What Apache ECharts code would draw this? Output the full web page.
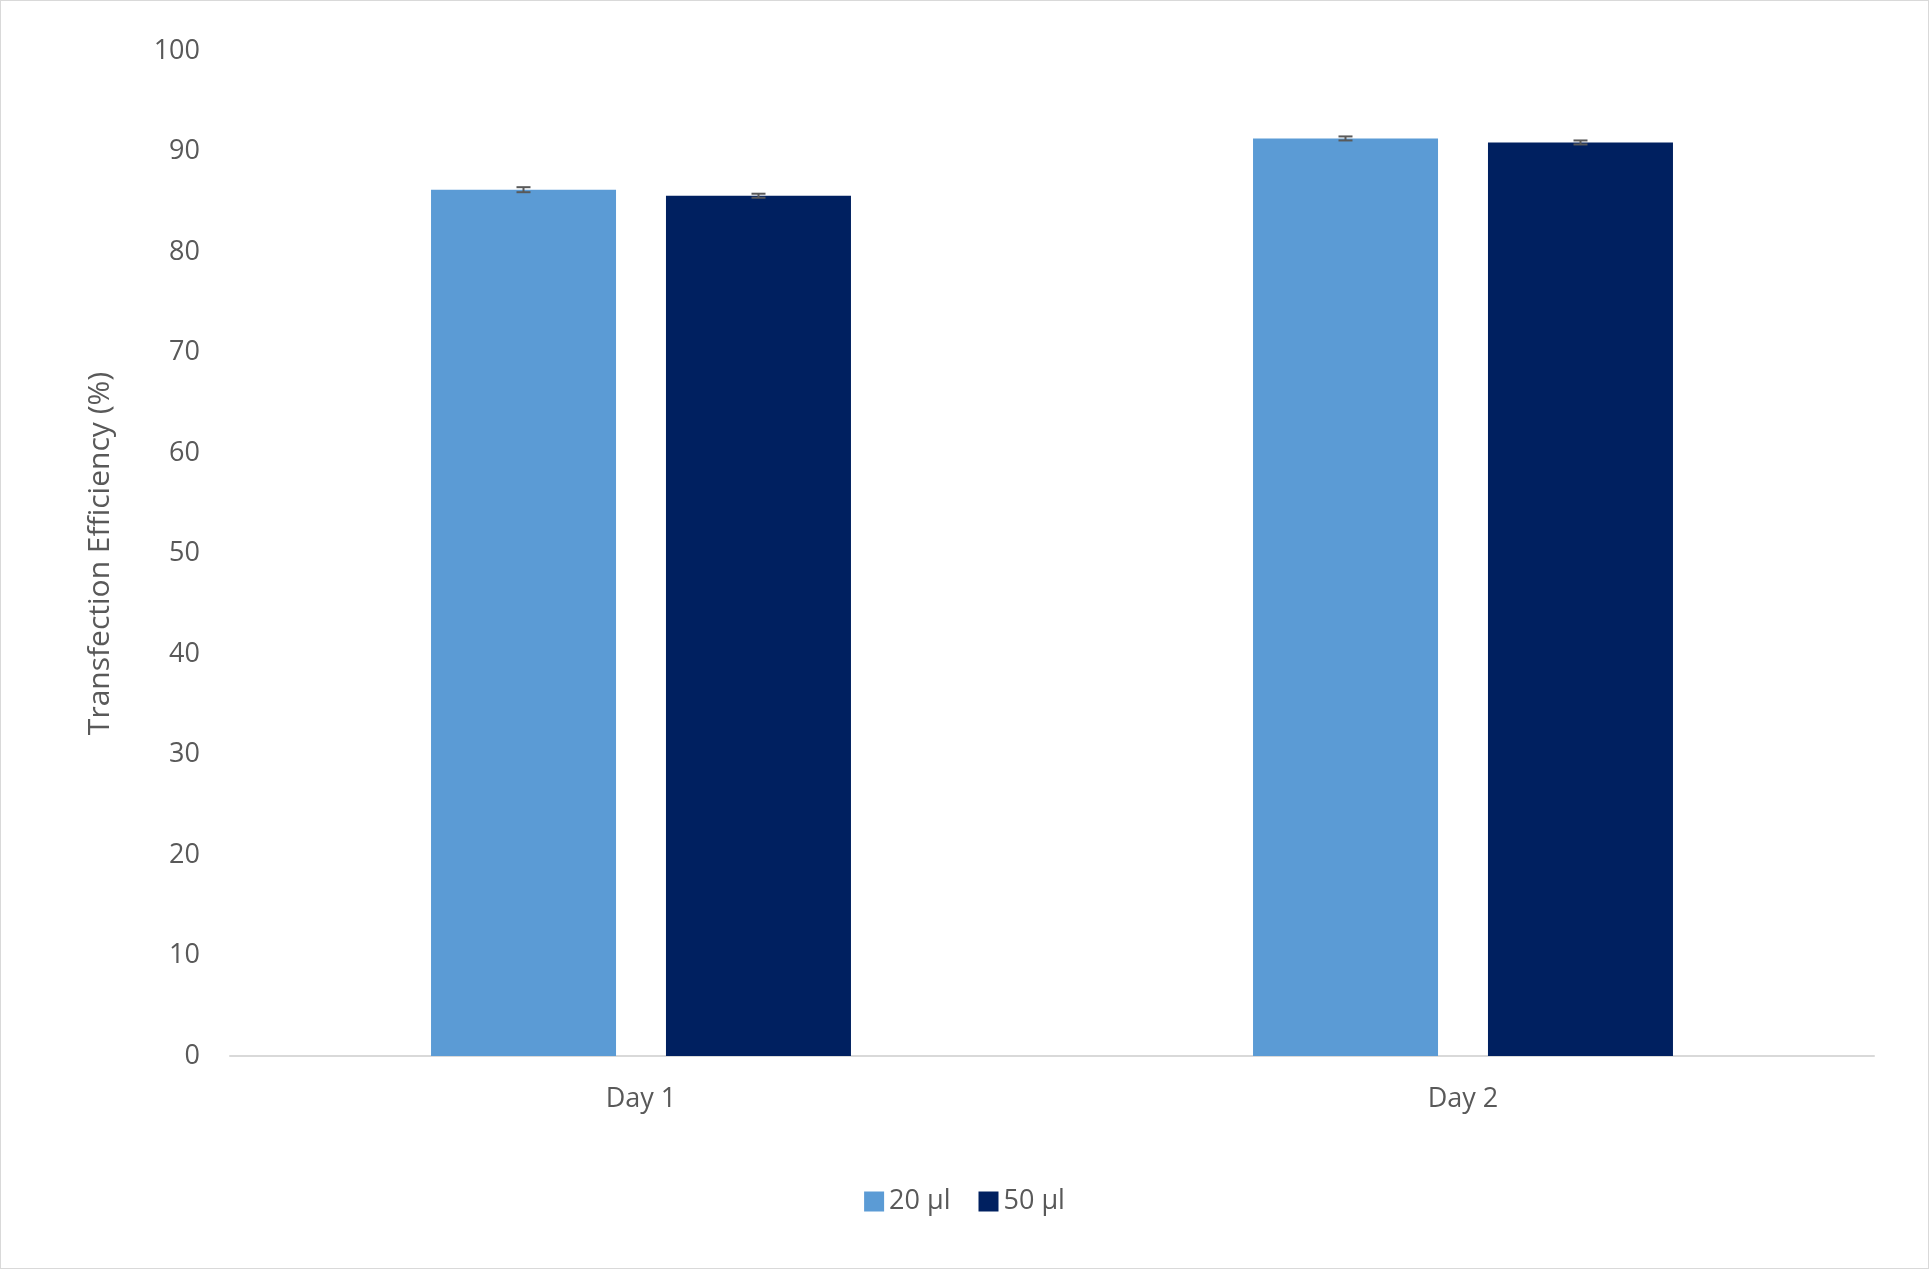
<!DOCTYPE html>
<html>
<head>
<meta charset="utf-8">
<script src="https://cdn.jsdelivr.net/npm/echarts@6/dist/echarts.min.js"></script>
<style>
html,body{margin:0;padding:0;background:#fff;}
#chart{width:1927px;height:1267px;border:1px solid #d9d9d9;}
</style>
</head>
<body>
<div id="chart"></div>
<script>
// data
var categories = ['Day 1', 'Day 2'];
var seriesNames = ['20 µl', '50 µl'];
var values20 = [86.2, 91.3];
var values50 = [85.6, 90.9];
var err20 = [0.25, 0.2];
var err50 = [0.2, 0.2];
var colors = ['#5b9bd5', '#002060'];

var BAR_W = 185, GAP = 50;

function errSeries(vals, errs, offset) {
    return {
        type: 'custom',
        z: 10,
        silent: true,
        data: vals.map(function (v, i) { return [i, v - errs[i], v + errs[i]]; }),
        renderItem: function (params, api) {
            var lo = api.coord([api.value(0), api.value(1)]);
            var hi = api.coord([api.value(0), api.value(2)]);
            var x = lo[0] + offset, hw = 7;
            var st = { stroke: '#595959', lineWidth: 2 };
            return {
                type: 'group',
                children: [
                    { type: 'line', shape: { x1: x, y1: lo[1], x2: x, y2: hi[1] }, style: st },
                    { type: 'line', shape: { x1: x - hw, y1: lo[1], x2: x + hw, y2: lo[1] }, style: st },
                    { type: 'line', shape: { x1: x - hw, y1: hi[1], x2: x + hw, y2: hi[1] }, style: st }
                ]
            };
        }
    };
}

var myChart = echarts.init(document.getElementById('chart'));
myChart.setOption({
    animation: false,
    textStyle: { fontFamily: 'Open Sans, Noto Sans, sans-serif' },
    grid: { left: 229, right: 54, top: 50, bottom: 212 },
    legend: {
        bottom: 48,
        left: 'center',
        itemWidth: 20, itemHeight: 20, itemGap: 28,
        icon: 'rect',
        textStyle: { fontSize: 27, color: '#595959' },
        data: seriesNames
    },
    xAxis: {
        type: 'category',
        data: categories,
        axisLine: { lineStyle: { color: '#d9d9d9', width: 2 } },
        axisTick: { show: false },
        axisLabel: { fontSize: 27, color: '#595959', margin: 30 }
    },
    yAxis: {
        type: 'value',
        min: 0, max: 100, interval: 10,
        name: 'Transfection Efficiency (%)',
        nameLocation: 'middle',
        nameGap: 115,
        nameTextStyle: { fontSize: 30, color: '#595959' },
        splitLine: { show: false },
        axisLine: { show: false },
        axisLabel: { fontSize: 27, color: '#595959', margin: 30 }
    },
    series: [
        { name: seriesNames[0], type: 'bar', data: values20, barWidth: BAR_W, barGap: (GAP / BAR_W * 100).toFixed(0) + '%', itemStyle: { color: colors[0] } },
        { name: seriesNames[1], type: 'bar', data: values50, barWidth: BAR_W, itemStyle: { color: colors[1] } },
        errSeries(values20, err20, -(BAR_W + GAP) / 2),
        errSeries(values50, err50, (BAR_W + GAP) / 2)
    ]
});
</script>
</body>
</html>
